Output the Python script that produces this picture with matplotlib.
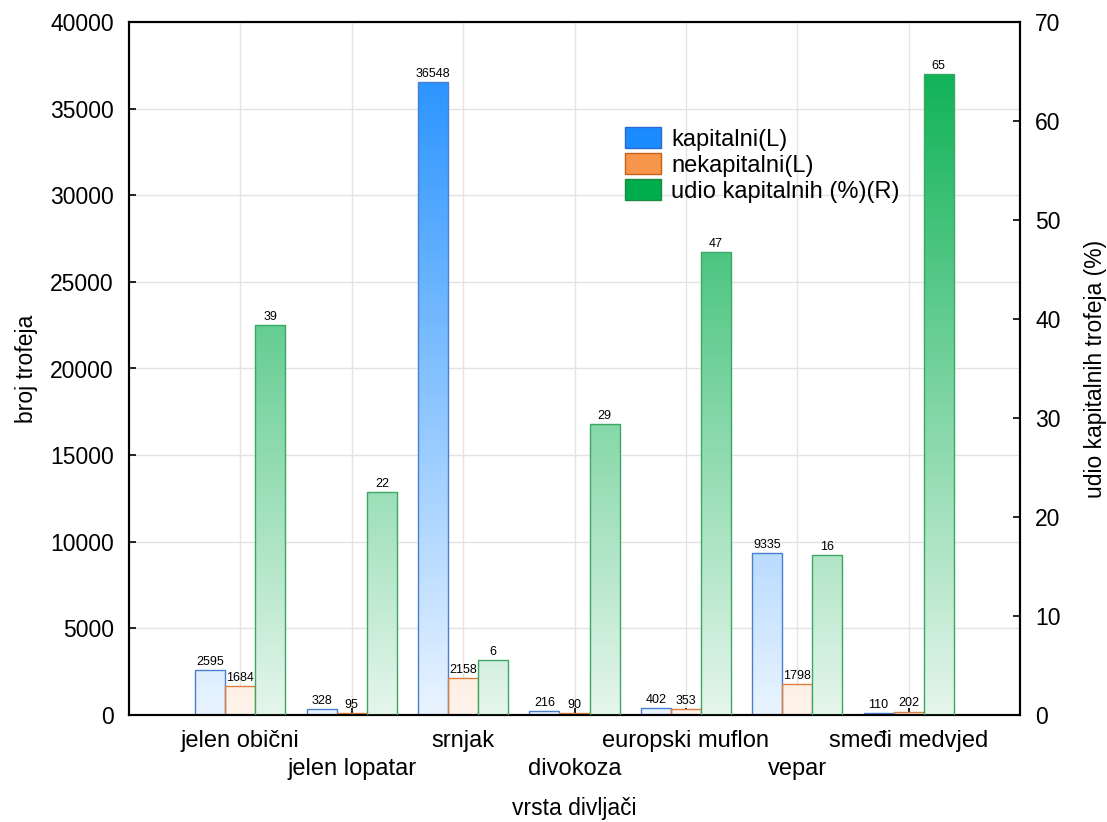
import numpy as np
import matplotlib.pyplot as plt
from matplotlib.colors import LinearSegmentedColormap
from matplotlib.patches import Patch
from matplotlib.transforms import ScaledTranslation

plt.rcParams['font.family'] = ['Liberation Sans', 'DejaVu Sans']

vrste = ['jelen obični', 'jelen lopatar', 'srnjak', 'divokoza',
         'europski muflon', 'vepar', 'smeđi medvjed']
kapitalni = [2595, 328, 36548, 216, 402, 9335, 110]
nekapitalni = [1684, 95, 2158, 90, 353, 1798, 202]
udio = [39.4, 22.5, 5.6, 29.4, 46.8, 16.2, 64.7]

x = np.arange(len(vrste))
w = 0.27

fig = plt.figure(figsize=(11.07, 8.22), dpi=100)
ax = fig.add_axes([129 / 1107, 107 / 822, 891 / 1107, 693 / 822])
ax2 = ax.twinx()

ylim_l = (0, 40000)
ylim_r = (0, 70)
xlim = (-1, 7)


def gradient_bars(axis, pos, vals, light, dark, edge, ymax):
    cmap = LinearSegmentedColormap.from_list('g', [light, dark])
    grad = np.linspace(0, 1, 256).reshape(-1, 1)
    bars = axis.bar(pos, vals, w, facecolor='none', edgecolor=edge,
                    linewidth=1.0, zorder=3)
    for b in bars:
        im = axis.imshow(grad, cmap=cmap, origin='lower', aspect='auto',
                         extent=[xlim[0], xlim[1], 0, ymax], zorder=2)
        im.set_clip_path(b)
    return bars


gradient_bars(ax, x - w, kapitalni, '#eaf4ff', '#1a8cff', '#4a7fd0', ylim_l[1])
gradient_bars(ax, x, nekapitalni, '#fff4ec', '#f7904a', '#d9803f', ylim_l[1])
gradient_bars(ax2, x + w, udio, '#e6f6ec', '#00ad4c', '#3aa860', ylim_r[1])

for xi, v in zip(x - w, kapitalni):
    ax.text(xi, v + 120, str(v), ha='center', va='bottom', fontsize=9)
for xi, v in zip(x, nekapitalni):
    ax.text(xi, v + 120, str(v), ha='center', va='bottom', fontsize=9)
for xi, v in zip(x + w, udio):
    ax2.text(xi, v + 0.2, f'{v:.0f}', ha='center', va='bottom', fontsize=9)

ax.set_xlim(*xlim)
ax.set_ylim(*ylim_l)
ax2.set_ylim(*ylim_r)
ax.set_yticks(np.arange(0, 40001, 5000))
ax2.set_yticks(np.arange(0, 71, 10))
ax.set_xticks(x)
ax.set_xticklabels(vrste, fontsize=17)
ax.tick_params(axis='both', direction='in', length=5, width=1.2, labelsize=16.5)
ax.tick_params(axis='y', pad=11)
ax.tick_params(axis='x', pad=11, labelsize=17)
ax2.tick_params(axis='y', direction='in', length=5, width=1.2, labelsize=16.5, pad=11)

# staggered category labels: every second one a row lower
shift = ScaledTranslation(0, -0.28, fig.dpi_scale_trans)
for i, lab in enumerate(ax.get_xticklabels()):
    if i % 2 == 1:
        lab.set_transform(lab.get_transform() + shift)

ax.grid(True, color='#e3e3e3', linewidth=1.0, zorder=0)
ax.set_axisbelow(True)

for a in (ax, ax2):
    for s in a.spines.values():
        s.set_linewidth(1.5)

ax.set_ylabel('broj trofeja', fontsize=16.5)
ax2.set_ylabel('udio kapitalnih trofeja (%)', fontsize=16.5)
ax.set_xlabel('vrsta divljači', fontsize=16.5)
ax.yaxis.set_label_coords(-91 / 891, 0.5)
ax2.yaxis.set_label_coords(1 + 64 / 891, 0.5)
ax.xaxis.set_label_coords(0.5, -82 / 693)

handles = [Patch(facecolor='#1a8cff', edgecolor='#2a6ad0'),
           Patch(facecolor='#f7964a', edgecolor='#c8601a'),
           Patch(facecolor='#00ad4c', edgecolor='#1a8a40')]
ax2.legend(handles, ['kapitalni(L)', 'nekapitalni(L)', 'udio kapitalnih (%)(R)'],
           loc='upper left', bbox_to_anchor=(0.557, 0.848), frameon=False,
           fontsize=17, handlelength=1.5, handleheight=1.0,
           handletextpad=0.45, labelspacing=0.1, borderaxespad=0,
           borderpad=0)

fig.savefig('out.png', dpi=100)
